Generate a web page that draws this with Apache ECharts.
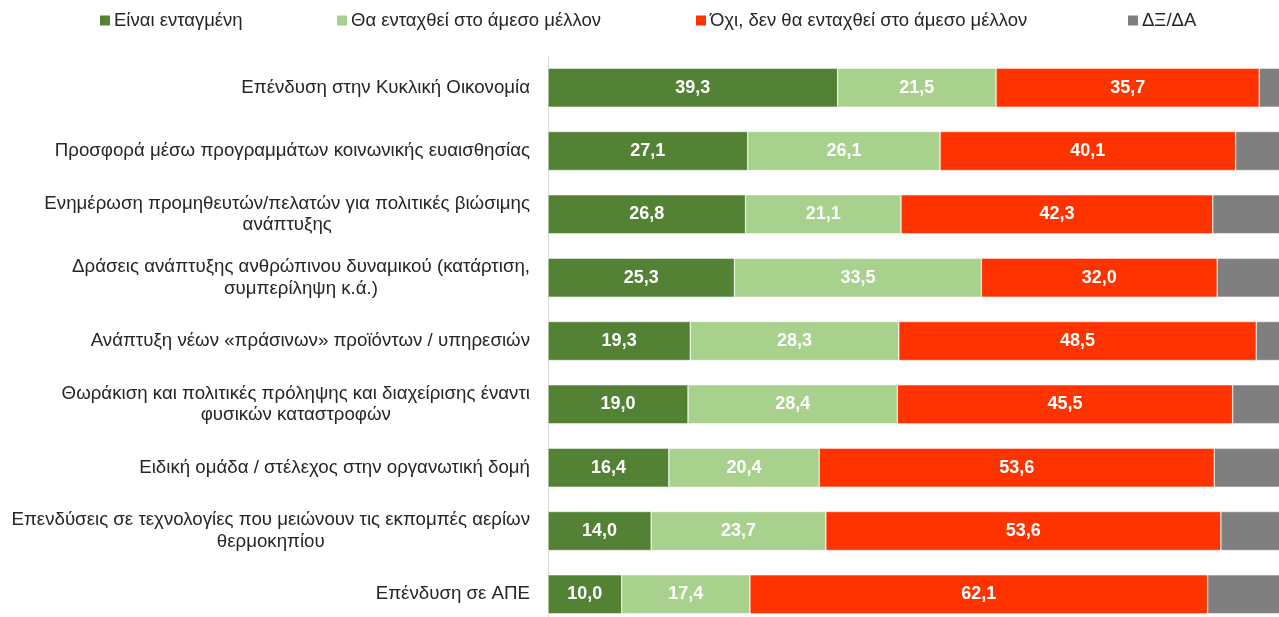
<!DOCTYPE html>
<html>
<head>
<meta charset="utf-8">
<script src="https://cdn.jsdelivr.net/npm/echarts@6/dist/echarts.min.js"></script>
<style>
  html, body { margin: 0; padding: 0; background: #fff; }
  #chart { width: 1279px; height: 617px; }
</style>
</head>
<body>
<div id="chart"></div>
<script>
// categories, top to bottom as in the picture
var categories = [
    'Επένδυση στην Κυκλική Οικονομία',
    'Προσφορά μέσω προγραμμάτων κοινωνικής ευαισθησίας',
    'Ενημέρωση προμηθευτών/πελατών για πολιτικές βιώσιμης\nανάπτυξης',
    'Δράσεις ανάπτυξης ανθρώπινου δυναμικού (κατάρτιση,\nσυμπερίληψη κ.ά.)',
    'Ανάπτυξη νέων «πράσινων» προϊόντων / υπηρεσιών',
    'Θωράκιση και πολιτικές πρόληψης και διαχείρισης έναντι\nφυσικών καταστροφών',
    'Ειδική ομάδα / στέλεχος στην οργανωτική δομή',
    'Επενδύσεις σε τεχνολογίες που μειώνουν τις εκπομπές αερίων\nθερμοκηπίου',
    'Επένδυση σε ΑΠΕ'
];
var seriesNames = ['Είναι ενταγμένη', 'Θα ενταχθεί στο άμεσο μέλλον', 'Όχι, δεν θα ενταχθεί στο άμεσο μέλλον', 'ΔΞ/ΔΑ'];
var integrated = [39.3, 27.1, 26.8, 25.3, 19.3, 19.0, 16.4, 14.0, 10.0];
var soon = [21.5, 26.1, 21.1, 33.5, 28.3, 28.4, 20.4, 23.7, 17.4];
var notSoon = [35.7, 40.1, 42.3, 32.0, 48.5, 45.5, 53.6, 53.6, 62.1];
var dkna = [3.5, 6.7, 9.8, 9.2, 3.9, 7.1, 9.6, 8.7, 10.5];
var colors = ['#548235', '#A9D18E', '#FF3300', '#7F7F7F'];

var font = 'Liberation Sans, Arial, sans-serif';
var chart = echarts.init(document.getElementById('chart'));

function bar(name, data, color, showLabel) {
    return {
        name: name,
        type: 'bar',
        stack: 'total',
        barWidth: 39,
        data: data,
        itemStyle: { color: color, borderColor: '#fff', borderWidth: 0.5 },
        label: {
            show: showLabel,
            color: '#fff',
            fontWeight: 'bold',
            fontSize: 18,
            fontFamily: font,
            formatter: function (p) { return p.value.toFixed(1).replace('.', ','); }
        }
    };
}

function legend(idx, left) {
    return {
        data: [seriesNames[idx]],
        left: left,
        top: 11,
        padding: 0,
        itemWidth: 10,
        itemHeight: 10,
        icon: 'rect',
        itemStyle: { borderWidth: 0 },
        textStyle: { fontSize: 18.5, color: '#262626', fontFamily: font, padding: [0, 0, 0, -1] },
        selectedMode: false
    };
}

var option = {
    animation: false,
    legend: [legend(0, 100), legend(1, 337), legend(2, 696), legend(3, 1128)],
    grid: { left: 548, width: 737, top: 56, height: 570, containLabel: false, outerBoundsMode: 'none' },
    xAxis: {
        type: 'value',
        min: 0,
        max: 100,
        show: false
    },
    yAxis: {
        type: 'category',
        inverse: true,
        data: categories,
        axisLine: { show: true, lineStyle: { color: '#D9D9D9', width: 1 } },
        axisTick: { show: false },
        axisLabel: {
            margin: 18,
            fontSize: 18.7,
            lineHeight: 21.5,
            color: '#262626',
            fontFamily: font,
            formatter: function (v) {
                return v.split('\n').map(function (l) { return '{c|' + l + '}'; }).join('\n');
            },
            rich: {
                c: { align: 'center', fontSize: 18.7, lineHeight: 21.5, color: '#262626', fontFamily: font }
            }
        }
    },
    series: [
        bar(seriesNames[0], integrated, colors[0], true),
        bar(seriesNames[1], soon, colors[1], true),
        bar(seriesNames[2], notSoon, colors[2], true),
        bar(seriesNames[3], dkna, colors[3], false)
    ]
};

chart.setOption(option);
</script>
</body>
</html>
